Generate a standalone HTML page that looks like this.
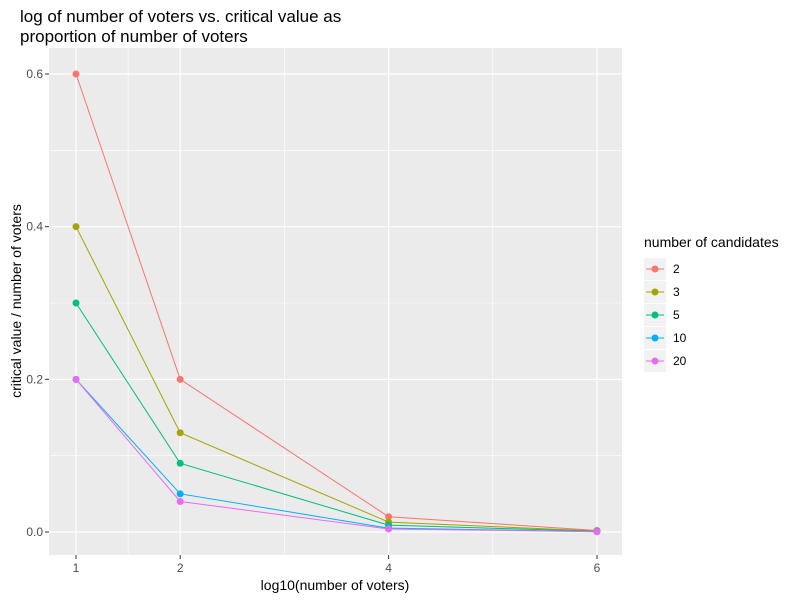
<!DOCTYPE html>
<html><head><meta charset="utf-8"><style>body{margin:0;background:#fff;font-family:"Liberation Sans",Arial,sans-serif}</style></head>
<body>
<svg id="c" width="800" height="600" xmlns="http://www.w3.org/2000/svg">
<text x="20" y="22" font-size="17" fill="#000">log of number of voters vs. critical value as</text>
<text x="20" y="42" font-size="17" fill="#000">proportion of number of voters</text>
<rect x="49" y="48" width="573" height="507" fill="#ebebeb"/>
<g id="grid"></g><g id="series"></g><g id="axes"></g>
<text x="335" y="590" font-size="14" text-anchor="middle">log10(number of voters)</text>
<text transform="translate(21,301) rotate(-90)" font-size="14" text-anchor="middle">critical value / number of voters</text>
<text x="644" y="247" font-size="14">number of candidates</text>
<g id="legend"></g>
</svg>
<script>
const xs=[1,2,4,6];
const groups=["2","3","5","10","20"];
const colors=["#F8766D","#A3A500","#00BF7D","#00B0F6","#E76BF3"];
const s2=[0.6,0.2,0.02,0.002];
const s3=[0.4,0.13,0.013,0.0013];
const s5=[0.3,0.09,0.009,0.0009];
const s10=[0.2,0.05,0.005,0.0005];
const s20=[0.2,0.04,0.004,0.0004];
const series=[s2,s3,s5,s10,s20];
const xTicks=[1,2,4,6], xMinor=[1.5,3,5];
const yTicks=[0,0.2,0.4,0.6], yMinor=[0.1,0.3,0.5];
const X=v=>76+(v-1)*104.2, Y=v=>532-v*763.3;
const ns="http://www.w3.org/2000/svg";
function mk(p,t,a){const e=document.createElementNS(ns,t);for(const k in a)e.setAttribute(k,a[k]);p.appendChild(e);return e;}
const g=document.getElementById('grid'),sg=document.getElementById('series'),ag=document.getElementById('axes'),lg=document.getElementById('legend');
xMinor.forEach(v=>{const l=mk(g,'line',{x1:X(v),x2:X(v),y1:48,y2:555,stroke:'#fff','stroke-width':0.6});
});
yMinor.forEach(v=>{const l=mk(g,'line',{x1:49,x2:622,y1:Y(v),y2:Y(v),stroke:'#fff','stroke-width':0.6});
});
xTicks.forEach(v=>{const l=mk(g,'line',{x1:X(v),x2:X(v),y1:48,y2:555,stroke:'#fff','stroke-width':1.2});

const t=mk(ag,'line',{x1:X(v),x2:X(v),y1:555,y2:559,stroke:'#333'});

const tx=mk(ag,'text',{x:X(v),y:572,'font-size':12,'text-anchor':'middle',fill:'#4d4d4d'});tx.textContent=v;
});
yTicks.forEach(v=>{const l=mk(g,'line',{x1:49,x2:622,y1:Y(v),y2:Y(v),stroke:'#fff','stroke-width':1.2});

const t=mk(ag,'line',{x1:45,x2:49,y1:Y(v),y2:Y(v),stroke:'#333'});

const tx=mk(ag,'text',{x:43,y:Y(v)+4,'font-size':12,'text-anchor':'end',fill:'#4d4d4d'});tx.textContent=v.toFixed(1);
});
series.forEach((s,i)=>{
const p=mk(sg,'polyline',{points:s.map((v,j)=>X(xs[j])+','+Y(v)).join(' '),fill:'none',stroke:colors[i],'stroke-width':1});

s.forEach((v,j)=>{const c=mk(sg,'circle',{cx:X(xs[j]),cy:Y(v),r:3.5,fill:colors[i]});
});
const by=269+i*23;
const r=mk(lg,'rect',{x:644,y:by-11,width:22,height:22,fill:'#f2f2f2'});

const ll=mk(lg,'line',{x1:646,x2:664,y1:by,y2:by,stroke:colors[i]});

const lc=mk(lg,'circle',{cx:655,cy:by,r:3.5,fill:colors[i]});

const lt=mk(lg,'text',{x:673,y:by+4,'font-size':12,fill:'#000'});lt.textContent=groups[i];

});
</script>
</body></html>
